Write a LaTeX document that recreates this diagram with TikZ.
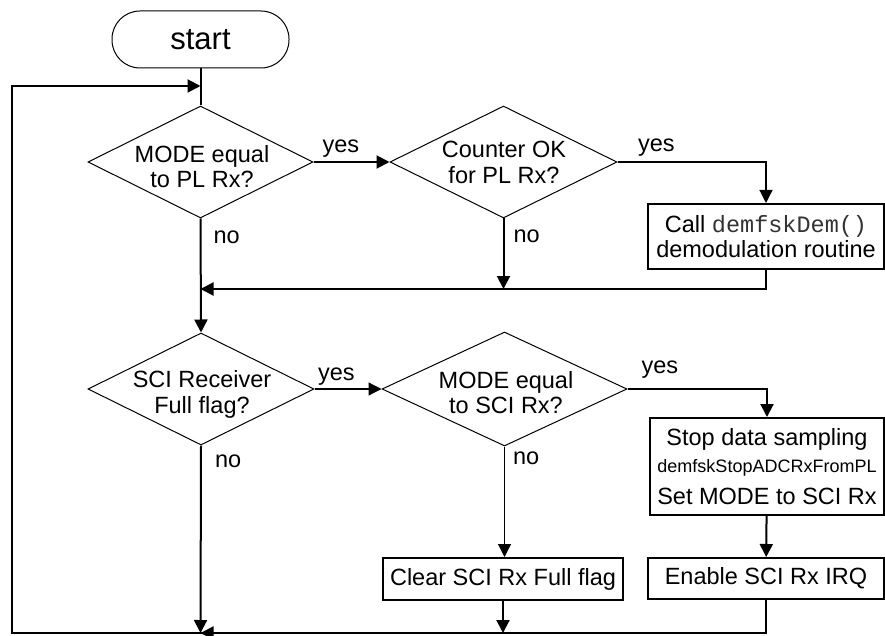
\documentclass[tikz,border=0pt]{standalone}
\usepackage{fontspec}
\setmainfont{Liberation Sans}
\newfontfamily\codefont{Liberation Mono}
\usetikzlibrary{shapes.geometric,arrows.meta}
\begin{document}
\begin{tikzpicture}[x=1pt,y=-1pt,
  every node/.style={font=\fontsize{23.5}{25.5}\selectfont},
  txt/.style={inner sep=0pt, align=center},
  lbl/.style={inner sep=0pt},
  terminal/.style={draw, line width=1pt, rounded corners=28pt, minimum width=177pt, minimum height=57pt, inner sep=0pt, font=\fontsize{31}{34}\selectfont},
  decision/.style={diamond, draw, line width=1pt, inner sep=0pt},
  process/.style={draw, line width=2pt, inner sep=0pt, align=center},
  line/.style={line width=2pt},
  flow/.style={line width=2pt, -{Triangle[length=13pt,width=13pt]}},
  flowthin/.style={line width=1.2pt, -{Triangle[length=13pt,width=13pt]}}
]
\useasboundingbox (0,0) rectangle (885,636);

% loop-back and junction points
\coordinate (top) at (200.5,86);
\coordinate (j1) at (200.5,289);
\coordinate (j2) at (200.5,633);
\coordinate (lb) at (12,633);
\coordinate (lt) at (12,86);

% start
\node[terminal] (start) at (200.5,39.5) {start};

% PL Rx branch
\node[decision, minimum width=225pt, minimum height=112pt] (d1) at (200.5,162) {};
\node[txt] (d1t) at (202,166.5) {MODE equal\\to PL Rx?};
\node[decision, minimum width=227pt, minimum height=112pt] (d2) at (503.5,162) {};
\node[txt] (d2t) at (504,162.5) {Counter OK\\for PL Rx?};
\node[process, minimum width=236pt, minimum height=65pt] (b1) at (766,236.5)
  {Call {\codefont\color{black!80}demfskDem()}\\demodulation routine};

% SCI Rx branch
\node[decision, minimum width=226pt, minimum height=112pt] (d3) at (201,389) {};
\node[txt] (d3t) at (202,394.5) {SCI Receiver\\Full flag?};
\node[decision, minimum width=245pt, minimum height=114pt] (d4) at (504.5,389) {};
\node[txt] (d4t) at (506,392.5) {MODE equal\\to SCI Rx?};
\node[process, minimum width=234pt, minimum height=97pt] (b2) at (767,466.5)
  {Stop data sampling\\[1.5pt]{\fontsize{18}{20}\selectfont demfskStopADCRxFromPL}\\[6pt]Set MODE to SCI Rx};
\node[process, minimum width=236pt, minimum height=41pt] (b3) at (766,578.5) {Enable SCI Rx IRQ};
\node[process, minimum width=240pt, minimum height=42pt] (bc) at (503,579) {Clear SCI Rx Full flag};

% connectors
\draw[line] (start) -- (d1);
\draw[flow] (b3.south) |- (lb) -- (lt) -- (top);

\draw[flow] (d1) -- node[lbl, at start, anchor=base west, xshift=8pt, yshift=9pt] {yes} (d2);
\draw[flowthin] (d2.east) -- node[lbl, at start, anchor=base west, xshift=20pt, yshift=10pt] {yes} (d2.east -| b1.north) -- (b1.north);
\draw[flow] (d2.south) -- node[lbl, at start, anchor=base west, xshift=9pt, yshift=-24pt] {no} (d2.south |- j1);
\draw[flow] (b1.south) |- (j1);
\draw[flow] (d1.south) -- node[lbl, at start, anchor=base west, xshift=12pt, yshift=-25pt] {no} (d3.north);

\draw[flowthin] (d3) -- node[lbl, at start, anchor=base west, xshift=3pt, yshift=9pt] {yes} (d4);
\draw[flow] (d4.east) -- node[lbl, at start, anchor=base west, xshift=13pt, yshift=16pt] {yes} (d4.east -| b2.north) -- (b2.north);
\draw[flowthin] (d4.south) -- node[lbl, at start, anchor=base west, xshift=8pt, yshift=-18pt] {no} (d4.south |- bc.north);
\draw[flow] (b2) -- (b3);
\draw[flow] (bc.south) -- (bc.south |- j2);
\draw[flow] (d3.south) -- node[lbl, at start, anchor=base west, xshift=13pt, yshift=-22pt] {no} (j2);
\draw[flow] (bc.south |- j2) -- (j2);
\end{tikzpicture}
\end{document}
